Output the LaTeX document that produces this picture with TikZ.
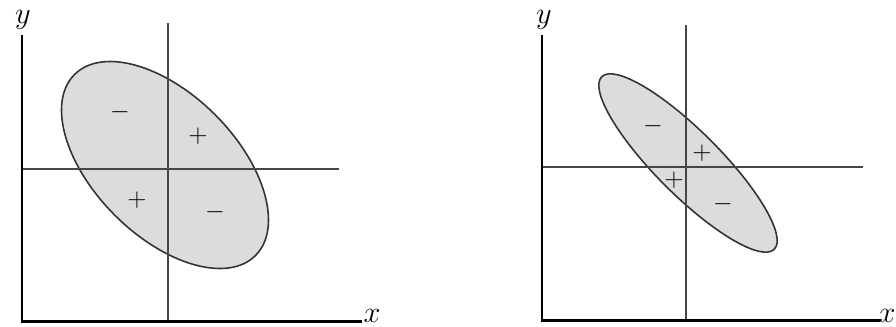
\documentclass[tikz,border=0pt]{standalone}
\usepackage{amsmath}
\definecolor{cloudgray}{RGB}{220,220,220}
\definecolor{linegray}{RGB}{70,70,70}
\usetikzlibrary{positioning}

\begin{document}
\begin{tikzpicture}[
  x=0.02cm,y=0.02cm,
  axis/.style={line width=1.7pt,black},
  cross/.style={line width=0.6pt,linegray},
  cloud/.style={fill=cloudgray,draw=black!80,line width=0.9pt},
  sign/.style={font=\Large,inner sep=0pt},
  axlabel/.style={font=\LARGE,inner sep=0pt},
]
  \useasboundingbox (0,0) rectangle (896,326);

  % Left panel: wide cloud
  \coordinate (lo) at (22,5);
  \coordinate (lc) at (168,157);
  \draw[cloud,rotate around={-45:(165,161)}] (165,161) ellipse [x radius=2.56cm,y radius=1.42cm];
  \draw[cross] (168,303) -- (168,5);
  \draw[cross] (22,157) -- (339,157);
  \draw[axis] (22,291) -- (lo) -- (362,5);
  \node[axlabel] (ly) at (23,306) {$y$};
  \node[axlabel] (lx) at (372,10) {$x$};
  \node[sign] (lm1) at (120,214) {$-$};
  \node[sign] (lp1) at (198,190) {$+$};
  \node[sign] (lp2) at (137,126) {$+$};
  \node[sign] (lm2) at (215,114) {$-$};

  % Right panel: narrow cloud
  \coordinate (ro) at (542,6);
  \coordinate (rc) at (686,159);
  \draw[cloud,rotate around={-45:(688,163)}] (688,163) ellipse [x radius=2.44cm,y radius=0.64cm];
  \draw[cross] (686,301) -- (686,6);
  \draw[cross] (542,159) -- (863,159);
  \draw[axis] (542,291) -- (ro) -- (880,6);
  \node[axlabel] (ry) at (544,306) {$y$};
  \node[axlabel] (rx) at (887,10) {$x$};
  \node[sign] (rm1) at (653,200) {$-$};
  \node[sign] (rp1) at (702,173) {$+$};
  \node[sign] (rp2) at (674,146) {$+$};
  \node[sign] (rm2) at (723,122) {$-$};
\end{tikzpicture}
\end{document}
